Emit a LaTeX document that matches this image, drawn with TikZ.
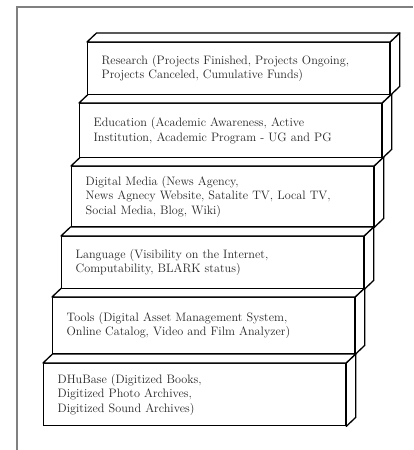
\documentclass[tikz,border=0pt]{standalone}
\begin{document}
\begin{tikzpicture}[x=1pt,y=-1pt,
  stepbox/.style={draw,line width=1.3pt,fill=white,rectangle,anchor=north west,
    text width=274pt,inner xsep=14pt,inner ysep=0pt,align=left,
    font=\fontsize{12.2pt}{14.5pt}\selectfont,text=black!85},
  face/.style={draw,line width=1.3pt,fill=white,line join=round}]
\useasboundingbox (0,0) rectangle (413,450);
\fill[white] (0,0) rectangle (413,450);
\coordinate (f1) at (17,450);
\coordinate (f2) at (17,7);
\coordinate (f3) at (413,7);
\draw[gray,line width=1.1pt] (f1) -- (f2) -- (f3);
\def\dx{9.5}\def\dy{9}
\newcommand{\sidefaces}[1]{%
  \path[face] (#1.north west) -- ++(\dx,-\dy) -- ([xshift=\dx pt,yshift=\dy pt]#1.north east) -- (#1.north east) -- cycle;
  \path[face] (#1.north east) -- ++(\dx,-\dy) -- ([xshift=\dx pt,yshift=\dy pt]#1.south east) -- (#1.south east) -- cycle;}
\node[stepbox,minimum height=62pt] (dhu) at (43,363) {DHuBase (Digitized Books,\\Digitized Photo Archives,\\Digitized Sound Archives)};
\sidefaces{dhu}
\node[stepbox,minimum height=56pt] (tools) at (52,297) {Tools (Digital Asset Management System,\\Online Catalog, Video and Film Analyzer)};
\sidefaces{tools}
\node[stepbox,minimum height=52pt] (lang) at (61,236) {Language (Visibility on the Internet,\\Computability, BLARK status)};
\sidefaces{lang}
\node[stepbox,minimum height=60pt] (dm) at (71,166) {Digital Media (News Agency,\\News Agnecy Website, Satalite TV, Local TV,\\Social Media, Blog, Wiki)};
\sidefaces{dm}
\node[stepbox,minimum height=54pt] (edu) at (79,103) {Education (Academic Awareness, Active\\Institution, Academic Program - UG and PG};
\sidefaces{edu}
\node[stepbox,minimum height=52pt] (res) at (87,42) {Research (Projects Finished, Projects Ongoing,\\Projects Canceled, Cumulative Funds)};
\sidefaces{res}
\end{tikzpicture}
\end{document}
